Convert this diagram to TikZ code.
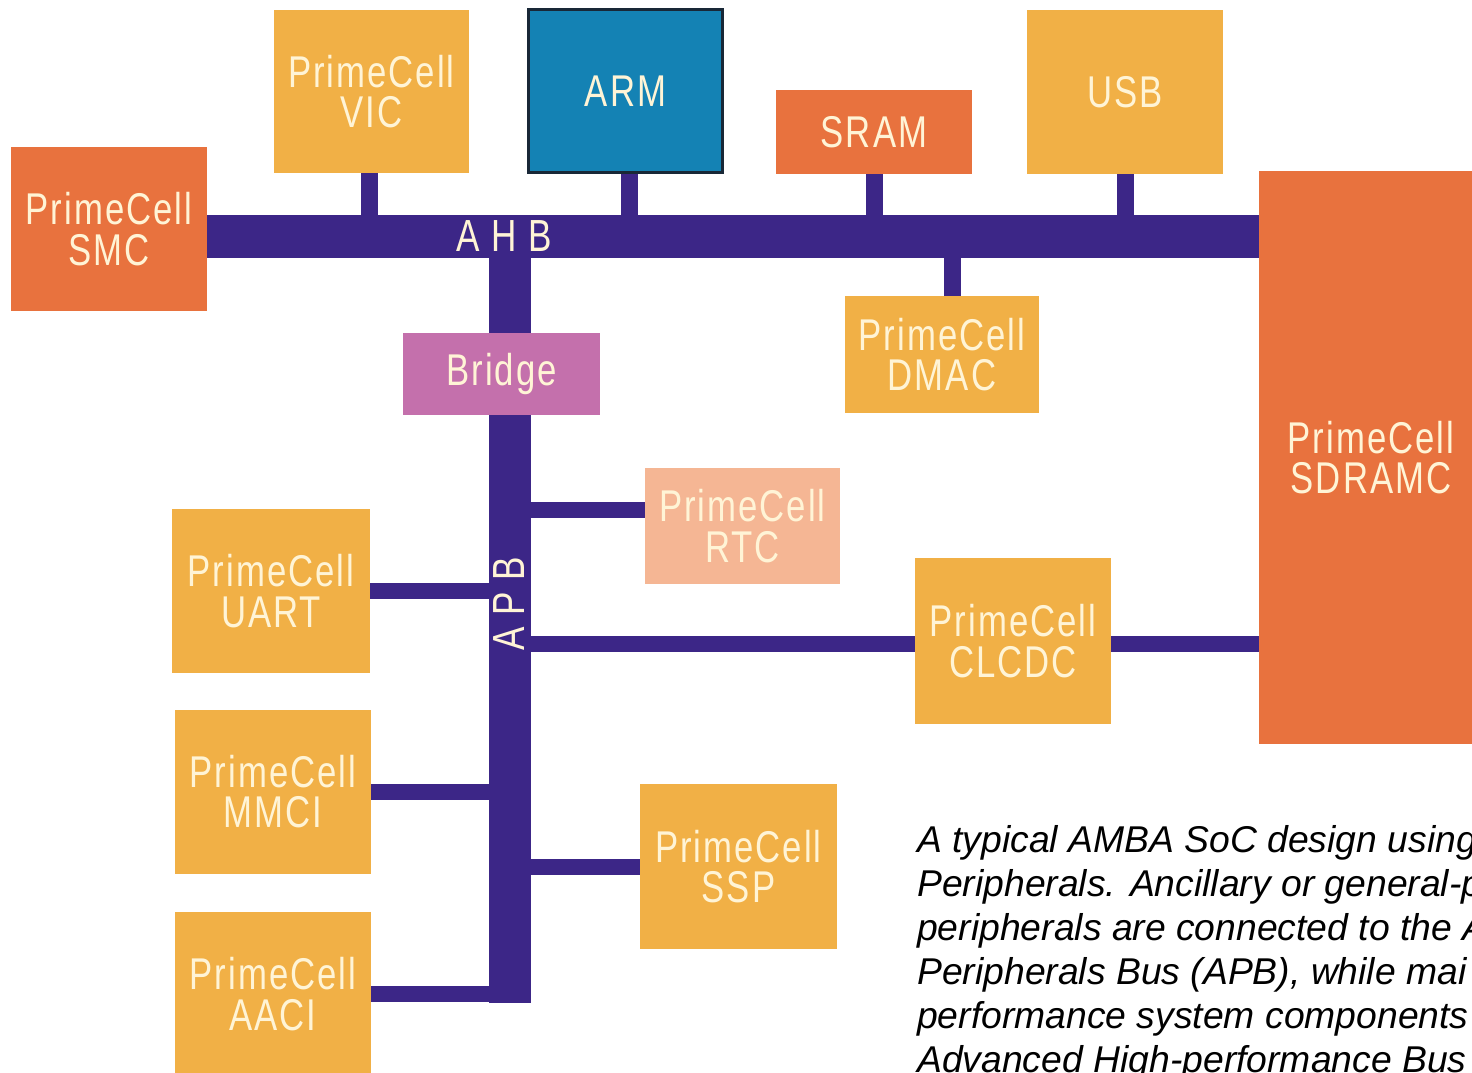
\documentclass[tikz,border=0pt]{standalone}
\usepackage{fontspec}
\setmainfont{Liberation Sans}
\newfontfamily\condfont[FakeStretch=0.78,LetterSpace=4.5]{Liberation Sans}
\usetikzlibrary{backgrounds}
\definecolor{busc}{RGB}{60,38,135}
\definecolor{orred}{RGB}{232,114,62}
\definecolor{lorange}{RGB}{241,176,70}
\definecolor{armblue}{RGB}{20,130,180}
\definecolor{armedge}{RGB}{25,40,55}
\definecolor{bridgec}{RGB}{196,112,172}
\definecolor{rtcc}{RGB}{245,182,148}
\definecolor{cream}{RGB}{255,244,214}
\begin{document}
\begin{tikzpicture}[x=1pt,y=-1pt,
  blk/.style={rectangle, inner sep=0pt, text=cream,
    font=\condfont\fontsize{44.5}{40.5}\selectfont, align=center},
  redbox/.style={blk, fill=orred},
  ylwbox/.style={blk, fill=lorange},
  bigbox/.style={minimum width=196pt, minimum height=164pt},
  bus/.style={draw=busc, line width=43pt, line cap=butt},
  apbbus/.style={draw=busc, line width=42pt, line cap=butt},
  stub/.style={draw=busc, line width=17pt, line cap=butt},
  branch/.style={draw=busc, line width=16pt, line cap=butt},
  buslbl/.style={inner sep=0pt, text=cream, font=\condfont\fontsize{45}{45}\selectfont},
  captxt/.style={inner sep=0pt, anchor=north west, align=left, text=black,
    font=\fontsize{37.3}{44}\selectfont\itshape}]
\useasboundingbox (0,0) rectangle (1472,1073);
\clip (0,0) rectangle (1472,1073);

% AHB side
\node[redbox, bigbox] (SMC) at (109,229) {PrimeCell\\SMC};
\node[ylwbox, minimum width=195pt, minimum height=163pt] (VIC) at (371.5,91.5) {PrimeCell\\VIC};
\node[blk, fill=armblue, draw=armedge, line width=3pt, minimum width=194pt, minimum height=163pt] (ARM) at (625.5,91) {ARM};
\node[redbox, minimum width=196pt, minimum height=84pt] (SRAM) at (874,132) {SRAM};
\node[ylwbox, bigbox] (USB) at (1125,92) {USB};
\node[ylwbox, minimum width=194pt, minimum height=117pt] (DMAC) at (942,354.5) {PrimeCell\\DMAC};
\node[redbox, minimum width=224pt, minimum height=573pt] (SDRAMC) at (1371,457.5) {PrimeCell\\SDRAMC};
\node[blk, fill=bridgec, minimum width=197pt, minimum height=82pt] (Bridge) at (501.5,374) {Bridge};

% APB side
\node[blk, fill=rtcc, minimum width=195pt, minimum height=116pt] (RTC) at (742.5,526) {PrimeCell\\RTC};
\node[ylwbox, minimum width=198pt, minimum height=164pt] (UART) at (271,591) {PrimeCell\\UART};
\node[ylwbox, bigbox] (MMCI) at (273,791.5) {PrimeCell\\MMCI};
\node[ylwbox, bigbox] (AACI) at (273,994) {PrimeCell\\AACI};
\node[ylwbox, minimum width=197pt, minimum height=165pt] (SSP) at (738.5,866.5) {PrimeCell\\SSP};
\node[ylwbox, minimum width=196pt, minimum height=166pt] (CLCDC) at (1013,641) {PrimeCell\\CLCDC};

\coordinate (ahb) at (0,236.5);
\coordinate (apbx) at (510,0);
\coordinate (apbend) at (510,1003);
\coordinate (rtcj) at ([yshift=16.5pt]RTC.west);
\coordinate (armj) at ([xshift=4pt]ARM.south);
\coordinate (vicj) at ([xshift=-2pt]VIC.south);
\coordinate (dmacj) at ([xshift=10pt]DMAC.north);
\coordinate (clcdcw) at ([yshift=-2.5pt]CLCDC.west);
\coordinate (clcdce) at ([yshift=-2.5pt]CLCDC.east);

\begin{scope}[on background layer]
  \draw[bus] (SMC.east |- ahb) -- (SDRAMC.west |- ahb);
  \draw[stub] (vicj) -- (vicj |- ahb);
  \draw[stub] (armj) -- (armj |- ahb);
  \draw[stub] (SRAM.south) -- (SRAM.south |- ahb);
  \draw[stub] (USB.south) -- (USB.south |- ahb);
  \draw[stub] (dmacj) -- (dmacj |- ahb);
  \draw[apbbus] (apbx |- ahb) -- (apbend);
  \draw[branch] (rtcj) -- (rtcj -| apbx);
  \draw[branch] (UART.east) -- (UART.east -| apbx);
  \draw[branch] (MMCI.east) -- (MMCI.east -| apbx);
  \draw[branch] (AACI.east) -- (AACI.east -| apbx);
  \draw[branch] (SSP.west) -- (SSP.west -| apbx);
  \draw[branch] (clcdcw) -- (clcdcw -| apbx);
  \draw[branch] (clcdce) -- (clcdce -| SDRAMC.west);
\end{scope}

\node[buslbl] (ahblbl) at (504,236.5) {A H B};
\node[buslbl, rotate=90] (apblbl) at (509.5,603.5) {A P B};

\node[captxt] (caption) at (917,825) {A typical AMBA SoC design using\\
Peripherals. Ancillary or general-p\\
peripherals are connected to the A\\
Peripherals Bus (APB), while mai\\
performance system components\\
Advanced High-performance Bus};
\end{tikzpicture}
\end{document}
